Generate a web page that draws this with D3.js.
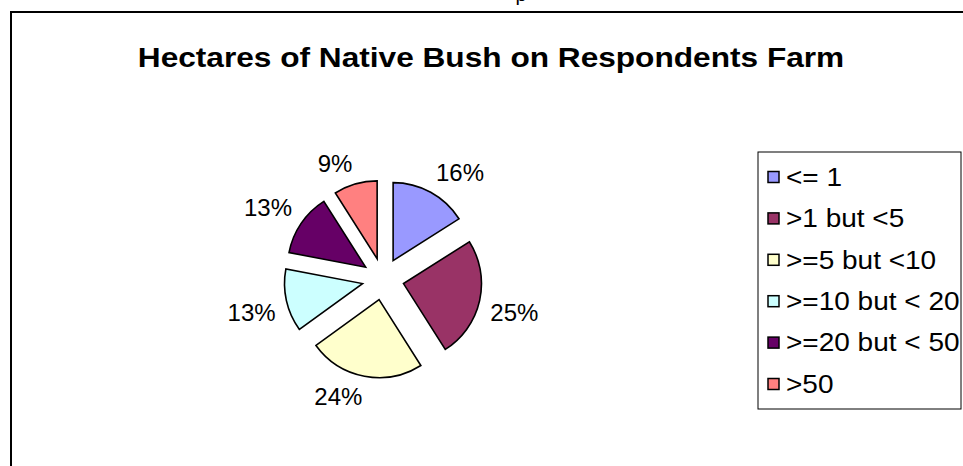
<!DOCTYPE html>
<html>
<head>
<meta charset="utf-8">
<script src="https://cdn.jsdelivr.net/npm/d3@7"></script>
<style>
  html, body { margin: 0; padding: 0; background: #fff; }
  svg { display: block; font-family: "Liberation Sans", Arial, sans-serif; }
</style>
</head>
<body>
<svg id="chart" width="963" height="466"></svg>
<script>
const title = "Hectares of Native Bush on Respondents Farm";
const categories = ["<= 1", ">1 but <5", ">=5 but <10", ">=10 but < 20", ">=20 but < 50", ">50"];
const values = [16, 25, 24, 13, 13, 9];
const colors = ["#9999FF", "#993366", "#FFFFCC", "#CCFFFF", "#660066", "#FF8080"];

const svg = d3.select("#chart");
const W = 963, H = 466;

svg.append("rect").attr("width", W).attr("height", H).attr("fill", "#fff");

// fragment of text from above the chart (cut off in the original too)
svg.append("text").attr("x", 521).attr("y", 1)
  .attr("font-size", 20).attr("text-anchor", "middle").text("p");

// outer chart border (extends past right and bottom edges)
svg.append("rect").attr("x", 11).attr("y", 12).attr("width", 1000).attr("height", 600)
  .attr("fill", "none").attr("stroke", "#000").attr("stroke-width", 2);

// title
svg.append("text")
  .attr("transform", "translate(491,67) scale(1.13,1)")
  .attr("text-anchor", "middle")
  .attr("font-size", 28).attr("font-weight", "bold")
  .text(title);

// pie
const cx = 383, cy = 279, r = 78, explode = 21;
const pie = d3.pie().sort(null).value(d => d)(values);
const arc = d3.arc().innerRadius(0).outerRadius(r);
const g = svg.append("g").attr("transform", `translate(${cx},${cy})`);

pie.forEach((p, i) => {
  const mid = (p.startAngle + p.endAngle) / 2;
  const dx = Math.sin(mid), dy = -Math.cos(mid);
  g.append("path")
    .attr("d", arc(p))
    .attr("transform", `translate(${dx * explode},${dy * explode})`)
    .attr("fill", colors[i])
    .attr("stroke", "#000").attr("stroke-width", 1.6)
    .attr("stroke-linejoin", "miter");

  // label box corner touches the point on the mid-angle ray
  const t = g.append("text")
    .attr("font-size", 24).attr("text-anchor", "middle")
    .attr("dy", "0.35em")
    .text(values[i] + "%");
  const w = t.node().getComputedTextLength();
  const h = 20;
  const R = r + explode + 11;
  t.attr("x", dx * R + Math.sign(dx) * w / 2)
   .attr("y", dy * R + Math.sign(dy) * h / 2);
});

// legend
const lg = svg.append("g");
lg.append("rect").attr("x", 758).attr("y", 152).attr("width", 203).attr("height", 257)
  .attr("fill", "#fff").attr("stroke", "#000").attr("stroke-width", 1);
const rowY = d3.scalePoint().domain(categories).range([177, 384]);
categories.forEach((c, i) => {
  const y = rowY(c);
  lg.append("rect").attr("x", 768).attr("y", y - 5.5).attr("width", 11).attr("height", 11)
    .attr("fill", colors[i]).attr("stroke", "#000").attr("stroke-width", 1.5);
  lg.append("text")
    .attr("transform", `translate(786,${y}) scale(1.12,1)`)
    .attr("dy", "0.35em")
    .attr("font-size", 25)
    .text(c);
});
</script>
</body>
</html>
